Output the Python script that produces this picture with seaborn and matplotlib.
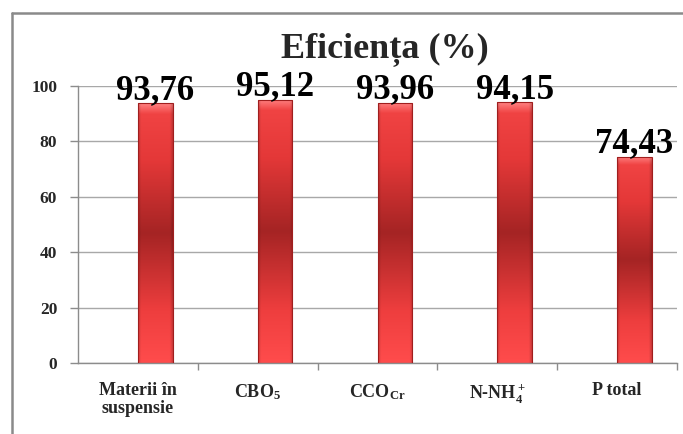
import numpy as np
import pandas as pd
import matplotlib
matplotlib.use("Agg")
import matplotlib.pyplot as plt
from matplotlib.lines import Line2D
from matplotlib.colors import to_rgb
import seaborn as sns

# ---- data ----
categories = ["Materii în\nsuspensie", "CBO$_5$", "CCO$_{Cr}$", "N-NH$_4^+$", "P total"]
efficiency = [93.76, 95.12, 93.96, 94.15, 74.43]
series_names = ["gol", "Eficiența"]
y_ticks = [0, 20, 40, 60, 80, 100]
title_text = "Eficiența (%)"

sns.set_style("white")
plt.rcParams["font.family"] = ["Liberation Serif", "DejaVu Serif"]
plt.rcParams["mathtext.fontset"] = "custom"
plt.rcParams["mathtext.rm"] = "Liberation Serif:bold"
plt.rcParams["mathtext.default"] = "regular"

# clustered layout: an empty first series pushes the bars to the right of each slot
df = pd.DataFrame({
    "categorie": categories * 2,
    "serie": [series_names[0]] * len(categories) + [series_names[1]] * len(categories),
    "valoare": [np.nan] * len(categories) + efficiency,
})

W, H = 683, 434
fig = plt.figure(figsize=(W / 100, H / 100), dpi=100)
ax = fig.add_axes([78 / W, (H - 363) / H, (677 - 78) / W, (363 - 86) / H])

sns.barplot(data=df, x="categorie", y="valoare", hue="serie",
            order=categories, hue_order=series_names,
            palette=["#E23434", "#E23434"], saturation=1,
            width=0.58, dodge=True, errorbar=None, legend=False, ax=ax)

# vertical gradient: bright ends, dark red core, light bevel on top
stops = [(0.00, "#FF4C4C"), (0.20, "#EE3E3E"), (0.50, "#A52424"),
         (0.78, "#E43838"), (0.96, "#F04343"), (1.00, "#FF8080")]
ts = np.linspace(0, 1, 200)
cols = np.array([to_rgb(c) for _, c in stops])
pos = np.array([s for s, _ in stops])
vert = np.stack([np.interp(ts, pos, cols[:, k]) for k in range(3)], axis=1)
xs = np.linspace(0, 1, 40)
side = np.clip(np.minimum(xs, 1 - xs) / 0.08, 0, 1) * 0.18 + 0.82
grad = vert[:, None, :] * side[None, :, None]

for p in ax.patches:
    h = p.get_height()
    if not np.isfinite(h) or h <= 0:
        continue
    x0, y0, w = p.get_x(), p.get_y(), p.get_width()
    im = ax.imshow(grad, extent=[x0, x0 + w, y0, y0 + h], origin="lower",
                   aspect="auto", interpolation="bilinear", zorder=2)
    im.set_clip_path(p)
    p.set_facecolor("none")
    p.set_edgecolor("#A01E1E")
    p.set_linewidth(0.8)
    p.set_zorder(3)

ax.set_xlim(-0.5, len(categories) - 0.5)
ax.set_ylim(0, 100)
ax.set_xlabel("")
ax.set_ylabel("")

# value labels
labels = [f"{v:.2f}".replace(".", ",") for v in efficiency]
ax.bar_label(ax.containers[1], labels=labels, padding=-2.5,
             fontsize=25, fontweight="bold", color="black", zorder=5)

# axes styling
ax.set_axisbelow(True)
ax.yaxis.grid(True, color="#A8A8A8", linewidth=1)
ax.xaxis.grid(False)
for s in ["top", "right"]:
    ax.spines[s].set_visible(False)
for s in ["left", "bottom"]:
    ax.spines[s].set_color("#8C8C8C")
    ax.spines[s].set_linewidth(1)

ax.set_yticks(y_ticks)
ax.set_yticklabels([str(t) for t in y_ticks])
ax.tick_params(axis="y", length=6, width=1, color="#8C8C8C", pad=9,
               labelsize=12.5, left=True)
ax.set_xticks(range(len(categories)))
ax.set_xticklabels(categories, linespacing=1.05)
ax.set_xticks(np.arange(0.5, len(categories)), minor=True)
ax.tick_params(axis="x", which="major", length=0, pad=14, labelsize=13)
ax.tick_params(axis="x", which="minor", length=5, width=1, color="#8C8C8C",
               bottom=True, direction="out")
for lbl in ax.get_xticklabels() + ax.get_yticklabels():
    lbl.set_fontweight("bold")

fig.text(385 / W, (H - 57) / H, title_text, ha="center", va="baseline",
         fontsize=26, fontweight="bold")

# chart frame
fx, fy = 11.5 / W, (H - 12.5) / H
fig.add_artist(Line2D([fx, fx], [-0.05, fy], transform=fig.transFigure,
                      color="#8A8A8A", linewidth=1.8))
fig.add_artist(Line2D([fx, 1.05], [fy, fy], transform=fig.transFigure,
                      color="#8A8A8A", linewidth=1.8))

fig.savefig("out.png", dpi=100)
